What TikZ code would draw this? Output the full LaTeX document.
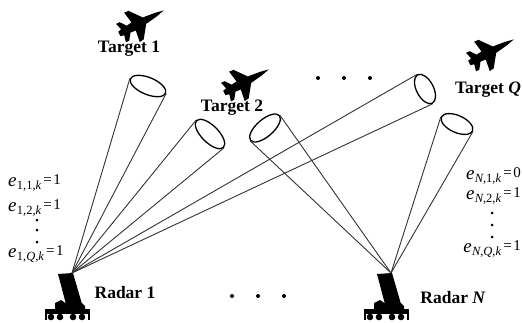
\documentclass[tikz,border=0pt]{standalone}
\usepackage{fontspec}
\setmainfont{Liberation Serif}
\usetikzlibrary{shapes.geometric}
% detection variable e_{n,q,k} with its value
\newcommand\evar[3]{{\fontsize{19}{19}\selectfont\textit{e}}\kern0.3pt\raisebox{-3.5pt}{\fontsize{12.5}{12.5}\selectfont #1,#2,\textit{k}}\kern2pt\raisebox{1.5pt}{\fontsize{15}{15}\selectfont =\kern1.5pt#3}}
\tikzset{
  jet/.pic={
    \fill[black] (26,0) -- (17,2) -- (8,3.2) -- (3,3.8) -- (-7,17) -- (-12,17.5)
      -- (-10,4.8) -- (-16,4.2) -- (-21,11) -- (-25,11) -- (-23,3.6) -- (-27,2.5)
      -- (-27,-2.5) -- (-23,-3.6) -- (-25,-11) -- (-21,-11) -- (-16,-4.2) -- (-10,-4.8)
      -- (-12,-17.5) -- (-7,-17) -- (3,-3.8) -- (8,-3.2) -- (17,-2) -- cycle;
  },
  radar/.pic={
    \fill[black] (-14,1) -- (1,0) -- (10,31) -- (-5,35) -- cycle;
    \fill[black] (-17,37) -- (-17,30) -- (-11,27) -- (-5,31) -- (10,30) -- (13,33) -- (13,37) -- cycle;
    \fill[black] (-27,36) rectangle (18,41);
    \foreach \wx in {-21,-12,1,10} \fill[black] (\wx,44) circle (3.3);
    \fill[black] (-27,41) rectangle (-25,47);
    \fill[black] (16,41) rectangle (18,47);
  }
}
\begin{document}
\begin{tikzpicture}[x=1pt,y=-1pt,
  beam/.style={draw=black!80, line width=0.9pt},
  mouth/.style={ellipse, draw=black, line width=1.3pt, inner sep=0pt, minimum width=17pt},
  tlabel/.style={font=\fontsize{17.5}{17.5}\selectfont\bfseries, inner sep=0pt},
  elabel/.style={inner sep=0pt},
  dot/.style={circle, fill=black, inner sep=0pt, minimum size=4pt},
  vdot/.style={circle, fill=black, inner sep=0pt, minimum size=3pt}]
\path[use as bounding box] (0,0) rectangle (522,322);

% radars
\coordinate (r1) at (72,273);
\coordinate (rN) at (391,273);
\pic (radar1) at (r1) {radar};
\pic (radarN) at (rN) {radar};

% beam mouths
\node[mouth, minimum height=38pt, rotate=67.6] (m11) at (148,86) {};
\node[mouth, minimum height=38pt, rotate=45] (m12) at (210,134) {};
\node[mouth, minimum height=32pt, rotate=27.4] (m1Q) at (425,89) {};
\node[mouth, minimum height=38pt, rotate=131] (mN2) at (265,128) {};
\node[mouth, minimum height=34pt, rotate=65.8] (mNQ) at (457,124) {};

% beams
\foreach \m in {m11,m12,m1Q} {
  \draw[beam] (r1) -- (\m.north);
  \draw[beam] (r1) -- (\m.south);
}
\foreach \m in {mN2,mNQ} {
  \draw[beam] (rN) -- (\m.north);
  \draw[beam] (rN) -- (\m.south);
}

% targets
\pic[rotate=28, scale=0.95] (jet1) at (142,22) {jet};
\pic[rotate=28, scale=0.95] (jet2) at (247,81) {jet};
\pic[rotate=28, scale=0.95] (jetQ) at (492,51) {jet};
\node[tlabel] (t1) at (129,49) {Target 1};
\node[tlabel] (t2) at (232,108) {Target 2};
\node[tlabel] (tQ) at (488,90) {Target \textit{Q}};
\node[tlabel] (rad1) at (125,293) {Radar 1};
\node[tlabel] (radN) at (453,298) {Radar \textit{N}};

% ellipsis dots
\foreach \x [count=\i] in {318,344,370} \node[dot] (td\i) at (\x,78) {};
\foreach \x [count=\i] in {232,258,284} \node[dot] (bd\i) at (\x,296) {};
\foreach \y [count=\i] in {220,230,242} \node[vdot] (ld\i) at (37,\y) {};
\foreach \y [count=\i] in {213,225,237} \node[vdot] (rd\i) at (492,\y) {};

% detection variables
\node[elabel, anchor=base west] (e11) at (8,186) {\evar{1}{1}{1}};
\node[elabel, anchor=base west] (e12) at (8,211) {\evar{1}{2}{1}};
\node[elabel, anchor=base west] (e1Q) at (8,257) {\evar{1}{\textit{Q}}{1}};
\node[elabel, anchor=base east] (eN1) at (521,179) {\evar{\textit{N}}{1}{0}};
\node[elabel, anchor=base east] (eN2) at (521,199) {\evar{\textit{N}}{2}{1}};
\node[elabel, anchor=base east] (eNQ) at (521,252) {\evar{\textit{N}}{\textit{Q}}{1}};
\end{tikzpicture}
\end{document}
